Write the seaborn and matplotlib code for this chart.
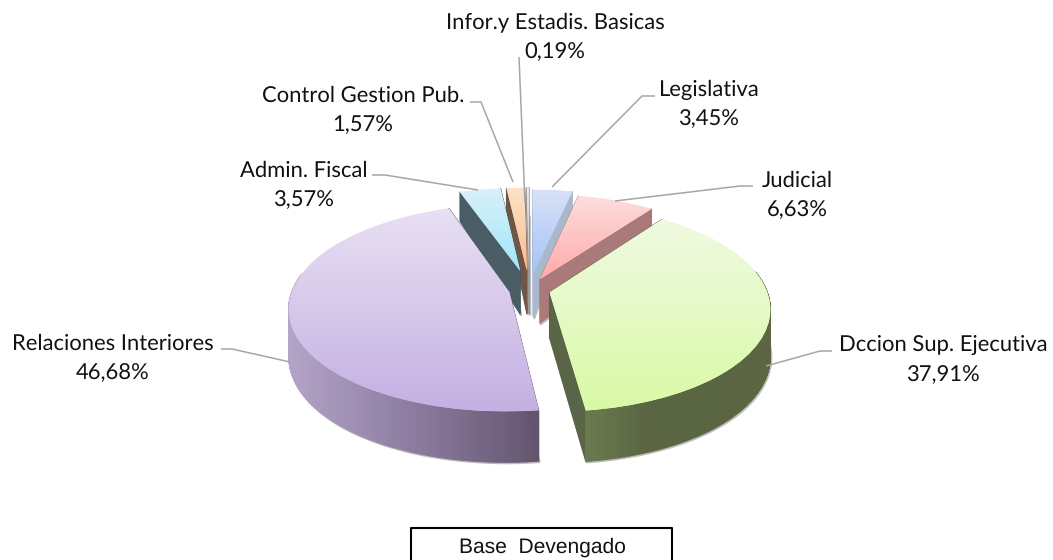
import numpy as np
import matplotlib
matplotlib.use('Agg')
import matplotlib.pyplot as plt
from matplotlib.collections import PolyCollection
from matplotlib.transforms import Transform
import seaborn as sns

# Data, clockwise from the top
labels = ['Infor.y Estadis. Basicas', 'Legislativa', 'Judicial', 'Dccion Sup. Ejecutiva',
          'Relaciones Interiores', 'Admin. Fiscal', 'Control Gestion Pub.']
values = [0.19, 3.45, 6.63, 37.91, 46.68, 3.57, 1.57]
percent_text = ['0,19%', '3,45%', '6,63%', '37,91%', '46,68%', '3,57%', '1,57%']
explode = [0.2, 0.17, 0.12, 0.095, 0.095, 0.2, 0.2]
box_text = 'Base  Devengado'

# top gradient (far, near), outer wall gradient (left to right), inner wall colour
top_colors = [('#ececec', '#bcbcbc'), ('#d8e2f6', '#a5c3fa'), ('#fddede', '#ffaaaa'),
              ('#f0fae1', '#d9f9a6'), ('#e8e0f3', '#c4b0e2'), ('#daf0fa', '#a0e6fa'),
              ('#fde1c8', '#fabe8c')]
wall_colors = [('#b0b0b0', '#999999'), ('#a9b8cc', '#a9b8cc'), ('#aa7a7a', '#aa7a7a'),
               ('#6b7a4e', '#5a6541', '#5a6541', '#5c6643'), ('#b4a5c8', '#8c7da0', '#64556f'),
               ('#46555f', '#3c5f69'), ('#6e5546', '#6e5546')]
side_colors = ['#999999', '#a9b8cc', '#aa7a7a', '#5a6446', '#64556f', '#4a5c64', '#6e5546']

# text position (centre x, centre y) and leader line, in picture pixels
label_xy = [(555, 37), (709, 104), (797, 195), (943, 360), (113, 358), (304, 185), (363, 110)]
leaders = [[(519, 57), (525, 203)],
           [(655, 96), (642, 96), (552, 187)],
           [(753, 186), (740, 186), (615, 201)],
           [(832, 351), (820, 351), (766, 366)],
           [(221, 349), (232, 349), (290, 362)],
           [(372, 175), (385, 175), (478, 190)],
           [(470, 102), (481, 102), (513, 182)]]

W, H = 1053, 560
CX, CY = 529.5, H - 290
A, B, K = 217.0, 100.6, 0.15

sns.set_theme(style='white')
plt.rcParams['font.family'] = ['Lato', 'DejaVu Sans']
plt.rcParams['text.hinting'] = 'none'
plt.rcParams['text.hinting_factor'] = 1


class Perspective(Transform):
    input_dims = 2
    output_dims = 2

    def transform_non_affine(self, values):
        values = np.asarray(values)
        w = 1 + K * values[:, 1]
        return np.column_stack([CX + A * values[:, 0] / w, CY + B * values[:, 1] / w])


persp = Perspective()


def walls(wedge):
    # side faces of one slice as quads, the two straight faces come first and last
    t = np.radians(np.linspace(wedge.theta1, wedge.theta2, 200))
    c = np.asarray(wedge.center)
    rim = c + np.column_stack([np.cos(t), np.sin(t)])
    outline = np.vstack([c, rim, c])
    v = outline[:, 1]
    upper = persp.transform_non_affine(outline)
    lower = upper - np.column_stack([np.zeros(len(v)), 45 - 9.8 * v - 4 * v ** 2])
    quads = [np.array([upper[i], upper[i + 1], lower[i + 1], lower[i]]) for i in range(len(outline) - 1)]
    return quads, lower, outline


fig = plt.figure(figsize=(W / 100, H / 100), dpi=100)
ax = fig.add_axes([0, 0, 1, 1])
wedges, _ = ax.pie(values, explode=explode, startangle=90.8, counterclock=False, frame=True)

mid = [np.sin(np.radians((w.theta1 + w.theta2) / 2)) for w in wedges]
for rank, i in enumerate(np.argsort(mid)[::-1]):
    wedge = wedges[i]
    z = 2 + rank * 4

    quads, lower, outline = walls(wedge)
    ax.plot(lower[:, 0] + 1, lower[:, 1] - 1, color='#a0a0a0', lw=1.5, alpha=0.7, zorder=z - 0.5)

    xs = np.array([q[:, 0].mean() for q in quads])
    cmap = sns.blend_palette(wall_colors[i], as_cmap=True)
    span = max(np.ptp(xs[1:-1]), 1)
    face = [cmap((x - xs[1:-1].min()) / span) for x in xs]
    face[0] = face[-1] = side_colors[i]
    # rim faces on the far side are hidden, leave them out
    keep = [j for j in range(len(quads)) if j in (0, len(quads) - 1) or outline[j, 1] - wedge.center[1] < 0.2]
    ax.add_collection(PolyCollection([quads[j] for j in keep], facecolors=[face[j] for j in keep],
                                     edgecolors=[face[j] for j in keep], linewidths=0.8, zorder=z))

    wedge.set_transform(persp + ax.transData)
    wedge.set_facecolor(sns.blend_palette(top_colors[i], 3)[1])
    wedge.set_edgecolor('none')
    wedge.set_zorder(z + 1)

    rim = np.vstack([q[:2] for q in quads])
    cmap = sns.blend_palette(top_colors[i], as_cmap=True)
    grad = np.linspace(0, 1, 256).reshape(-1, 1)
    im = ax.imshow(grad, cmap=cmap, aspect='auto', origin='upper', zorder=z + 2, interpolation='bilinear',
                   extent=[rim[:, 0].min(), rim[:, 0].max(), rim[:, 1].min(), rim[:, 1].max()])
    im.set_clip_path(wedge)

for pts in leaders:
    pts = np.array(pts, dtype=float)
    ax.plot(pts[:, 0], H - pts[:, 1], color='#a6a6a6', lw=1.1, zorder=50, solid_capstyle='butt')

for name, pct, (x, y) in zip(labels, percent_text, label_xy):
    ax.text(x, H - y, name + '\n' + pct, ha='center', va='center', fontsize=16, color='#111111',
            linespacing=1.57, zorder=60)

ax.text(542, H - 547, box_text, ha='center', va='center', fontsize=15.3, color='#111111',
        family='Liberation Sans', zorder=60)
ax.plot([411, 411, 672, 672], [0, H - 528, H - 528, 0], color='black', lw=1.5, zorder=55)

ax.set_xlim(0, W)
ax.set_ylim(0, H)
ax.set_aspect('auto')
ax.axis('off')
fig.savefig('out.png', dpi=100)
